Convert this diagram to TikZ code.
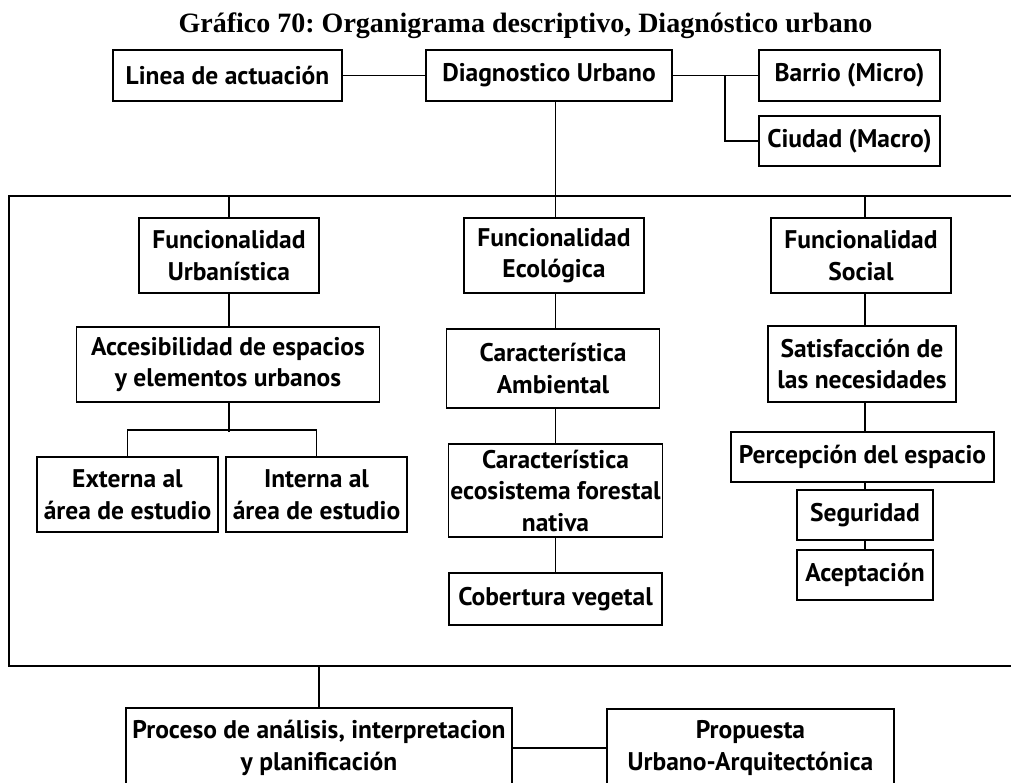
\documentclass[tikz,border=0pt]{standalone}
\usepackage{fontspec}
\newfontfamily\cajafont{PT Sans}
\newfontfamily\titulofont{Liberation Serif}
\frenchspacing

\begin{document}
\begin{tikzpicture}[
        x=1pt, y=-1pt,
        caja/.style={draw, line width=1.6pt, align=center, inner sep=1pt,
            font=\cajafont\bfseries\fontsize{25.5}{31.5}\selectfont},
        linea/.style={line width=1.6pt},
        marco/.style={line width=2pt}
    ]
        \useasboundingbox (0,0) rectangle (1011,782);

        % Titulo
        \node[anchor=base, font=\titulofont\bfseries\fontsize{28}{32}\selectfont] (titulo) at (525.5,32)
            {Gráfico 70: Organigrama descriptivo, Diagnóstico urbano};

        % Fila superior
        \node[caja, minimum width=229, minimum height=51] (lin) at (227.5,75.5) {Linea de actuación};
        \node[caja, minimum width=246, minimum height=51] (diag) at (549,75.5) {Diagnostico Urbano};
        \node[caja, minimum width=181, minimum height=51] (barrio) at (849.5,75.5) {Barrio (Micro)};
        \node[caja, minimum width=181, minimum height=50] (ciudad) at (849.5,141) {Ciudad (Macro)};
        \coordinate (rama) at (725,75.5);

        % Marco abierto a la derecha
        \coordinate (marcoNO) at (9,196);
        \coordinate (marcoSO) at (9,666);
        \draw[marco] (1015,196) -- (marcoNO) -- (marcoSO) -- (1015,666);

        % Funcionalidades
        \node[caja, minimum width=180, minimum height=75] (fu) at (229,255.5) {Funcionalidad\\Urbanística};
        \node[caja, minimum width=180, minimum height=75] (eco) at (554,255.5) {Funcionalidad\\Ecológica};
        \node[caja, minimum width=180, minimum height=75] (soc) at (861,255.5) {Funcionalidad\\Social};

        % Columna urbanistica
        \node[caja, minimum width=303, minimum height=75] (acc) at (228,364.5) {Accesibilidad de espacios\\y elementos urbanos};
        \node[caja, minimum width=181, minimum height=75] (ext) at (127.5,494.5) {Externa al\\área de estudio};
        \node[caja, minimum width=181, minimum height=75] (int) at (316.5,494.5) {Interna al\\área de estudio};

        % Columna ecologica
        \node[caja, minimum width=213, minimum height=79] (amb) at (553,368.5) {Característica\\Ambiental};
        \node[caja, minimum width=214, minimum height=93] (eca) at (555.5,490.5) {Característica\\ecosistema forestal\\nativa};
        \node[caja, minimum width=213, minimum height=52] (cob) at (555.5,599) {Cobertura vegetal};

        % Columna social
        \node[caja, minimum width=188, minimum height=76] (sat) at (862,364) {Satisfacción de\\las necesidades};
        \node[caja, minimum width=263, minimum height=50] (per) at (862.5,457) {Percepción del espacio};
        \node[caja, minimum width=136, minimum height=50] (seg) at (865,515) {Seguridad};
        \node[caja, minimum width=136, minimum height=50] (ace) at (865,575) {Aceptación};

        % Fila inferior
        \node[caja, minimum width=386, minimum height=80] (pro) at (319,748) {Proceso de análisis, interpretacion\\y planificación};
        \node[caja, minimum width=287, minimum height=78] (prop) at (750.5,748) {Propuesta\\Urbano-Arquitectónica};

        % Conexiones
        \draw[linea] (lin) -- (diag);
        \draw[linea] (diag) -- (barrio);
        \draw[linea] (rama) |- (ciudad.west);
        \draw[linea] (diag.south -| cob) -- (eco.north -| cob);
        \draw[linea] (marcoNO -| fu) -- (fu.north);
        \draw[linea] (marcoNO -| seg) -- (soc.north -| seg);

        \draw[linea] (fu.south) -- (fu.south |- acc.north);
        \draw[linea] (acc.south -| fu) -- ++(0,29);
        \draw[linea] (ext.north) -- ++(0,-26) -| (int.north);

        \draw[linea] (eco.south -| cob) -- (amb.north -| cob);
        \draw[linea] (amb.south -| cob) -- (eca.north -| cob);
        \draw[linea] (eca.south -| cob) -- (cob.north);

        \draw[linea] (soc.south -| seg) -- (sat.north -| seg);
        \draw[linea] (sat.south -| seg) -- (per.north -| seg);
        \draw[linea] (per.south -| seg) -- (seg.north);
        \draw[linea] (seg.south) -- (ace.north);

        \draw[linea] (marcoSO -| pro) -- (pro.north);
        \draw[linea] (pro) -- (prop);
\end{tikzpicture}
\end{document}
